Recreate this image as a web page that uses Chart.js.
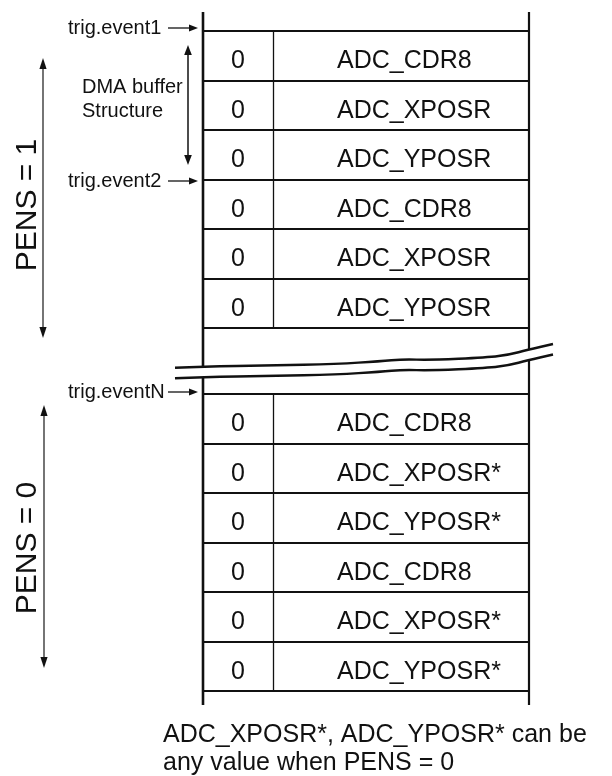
<!DOCTYPE html>
<html>
<head>
<meta charset="utf-8">
<script src="https://cdn.jsdelivr.net/npm/chart.js@4.4.1/dist/chart.umd.min.js"></script>
<style>
html,body{margin:0;padding:0;background:#fff;}
#wrap{width:612px;height:776px;position:relative;}
</style>
</head>
<body>
<div id="wrap"><canvas id="c" width="612" height="776"></canvas></div>
<script>
// ---- data ----
const upperRegisters = ['ADC_CDR8','ADC_XPOSR','ADC_YPOSR','ADC_CDR8','ADC_XPOSR','ADC_YPOSR'];
const upperFlags = [0,0,0,0,0,0];
const lowerRegisters = ['ADC_CDR8','ADC_XPOSR*','ADC_YPOSR*','ADC_CDR8','ADC_XPOSR*','ADC_YPOSR*'];
const lowerFlags = [0,0,0,0,0,0];
const triggerLabels = ['trig.event1','trig.event2','trig.eventN'];
const sectionLabels = ['PENS = 1','PENS = 0'];
const bufferLabel = ['DMA buffer','Structure'];
const noteLines = ['ADC_XPOSR*, ADC_YPOSR* can be','any value when PENS = 0'];

// ---- layout (pixel-valued scales) ----
const FONT = '"Liberation Sans", Arial, Helvetica, sans-serif';
const INK = '#111';
const L = {
  left:203, div:273, right:529, textX:337,
  lineTop:12, lineBottom:705,
  upperTop:31, lowerTop:394, rowH:49.55,
  trigY:[28,181,392], trigTextX:68, trigArrow:[168,198],
  pens:[{x:43, y0:58, y1:338, cx:28, cy:205},{x:44, y0:405, y1:668, cx:28, cy:548}],
  dma:{x:188, y0:45, y1:165, textX:82, base:[93,117]},
  note:{x:163, base:[742,770]},
  wave:[[175,367.7],[203,366.5],[270,365.5],[337,364],[380,361.3],[403,359.2],[430,360],[487,357.6],[510,354.5],[527,350],[553,344]],
  waveGap:10.5
};

const rows = [];
upperRegisters.forEach((r,i)=>rows.push({reg:r, flag:upperFlags[i], y:L.upperTop+(i+0.5)*L.rowH}));
lowerRegisters.forEach((r,i)=>rows.push({reg:r, flag:lowerFlags[i], y:L.lowerTop+(i+0.5)*L.rowH}));

const flagData = rows.map(r=>({x:[L.left,L.div], y:r.y}));
const regData = rows.map(r=>({x:[L.div,L.right], y:r.y}));

function arrowHead(ctx, x, y, dx, dy, len, half){
  const n = Math.hypot(dx,dy); const ux=dx/n, uy=dy/n;
  ctx.beginPath();
  ctx.moveTo(x,y);
  ctx.lineTo(x-ux*len-uy*half, y-uy*len+ux*half);
  ctx.lineTo(x-ux*len+uy*half, y-uy*len-ux*half);
  ctx.closePath();
  ctx.fill();
}

function smoothPath(ctx, pts){
  ctx.moveTo(pts[0][0],pts[0][1]);
  for(let i=1;i<pts.length-1;i++){
    const mx=(pts[i][0]+pts[i+1][0])/2, my=(pts[i][1]+pts[i+1][1])/2;
    ctx.quadraticCurveTo(pts[i][0],pts[i][1],mx,my);
  }
  const last=pts[pts.length-1];
  ctx.lineTo(last[0],last[1]);
}

const diagramPlugin = {
  id:'diagram',
  afterDatasetsDraw(chart){
    const ctx = chart.ctx;
    const sx = chart.scales.x, sy = chart.scales.y;
    const X = v=>sx.getPixelForValue(v), Y = v=>sy.getPixelForValue(v);
    ctx.save();

    const m0 = chart.getDatasetMeta(0), m1 = chart.getDatasetMeta(1);

    // cell borders from bar geometry
    ctx.strokeStyle = INK;
    m1.data.forEach((el)=>{
      const h = el.height, t = el.y - h/2, b = el.y + h/2;
      ctx.lineWidth = 1.8;
      ctx.beginPath();
      ctx.moveTo(X(L.left), Math.round(t)); ctx.lineTo(el.x, Math.round(t));
      ctx.moveTo(X(L.left), Math.round(b)); ctx.lineTo(el.x, Math.round(b));
      ctx.stroke();
    });
    m0.data.forEach((el)=>{
      const h = el.height;
      ctx.lineWidth = 1.3;
      ctx.beginPath();
      ctx.moveTo(Math.round(el.x)+0.5, el.y - h/2); ctx.lineTo(Math.round(el.x)+0.5, el.y + h/2);
      ctx.stroke();
    });

    // cell texts
    ctx.fillStyle = INK;
    ctx.font = '25px ' + FONT;
    ctx.textBaseline = 'alphabetic';
    m0.data.forEach((el,i)=>{
      ctx.textAlign='center';
      ctx.fillText(String(rows[i].flag), (el.x+el.base)/2, el.y+12.5);
    });
    m1.data.forEach((el,i)=>{
      ctx.textAlign='left';
      ctx.fillText(rows[i].reg, X(L.textX), el.y+12.5);
    });

    // outer vertical lines
    ctx.strokeStyle = INK;
    ctx.lineCap='butt';
    ctx.lineWidth = 2.6;
    ctx.beginPath(); ctx.moveTo(X(L.left),Y(L.lineTop)); ctx.lineTo(X(L.left),Y(L.lineBottom)); ctx.stroke();
    ctx.lineWidth = 2.2;
    ctx.beginPath(); ctx.moveTo(X(L.right),Y(L.lineTop)); ctx.lineTo(X(L.right),Y(L.lineBottom)); ctx.stroke();

    // break symbol
    const top = L.wave.map(p=>[X(p[0]),Y(p[1])]);
    const bot = L.wave.map(p=>[X(p[0]),Y(p[1]+L.waveGap)]);
    ctx.fillStyle='#fff';
    ctx.beginPath();
    smoothPath(ctx, top);
    const rb = bot.slice().reverse();
    ctx.lineTo(rb[0][0], rb[0][1]);
    for(let i=1;i<rb.length;i++) ctx.lineTo(rb[i][0], rb[i][1]);
    ctx.closePath();
    ctx.fill();
    ctx.strokeStyle=INK; ctx.lineWidth=2.4; ctx.lineJoin='round';
    ctx.beginPath(); smoothPath(ctx, top); ctx.stroke();
    ctx.beginPath(); smoothPath(ctx, bot); ctx.stroke();

    // trigger labels and arrows
    ctx.fillStyle=INK; ctx.strokeStyle=INK;
    ctx.font='20px '+FONT; ctx.textAlign='left';
    triggerLabels.forEach((t,i)=>{
      const y=Y(L.trigY[i]);
      ctx.fillText(t, X(L.trigTextX), y+5.5);
      ctx.lineWidth=1.3;
      ctx.beginPath(); ctx.moveTo(X(L.trigArrow[0]),y); ctx.lineTo(X(L.trigArrow[1])-6,y); ctx.stroke();
      arrowHead(ctx, X(L.trigArrow[1]), y, 1, 0, 9, 3.6);
    });

    // DMA buffer structure
    bufferLabel.forEach((t,i)=>ctx.fillText(t, X(L.dma.textX), Y(L.dma.base[i])));
    ctx.lineWidth=1.5;
    ctx.beginPath(); ctx.moveTo(X(L.dma.x),Y(L.dma.y0)+6); ctx.lineTo(X(L.dma.x),Y(L.dma.y1)-6); ctx.stroke();
    arrowHead(ctx, X(L.dma.x), Y(L.dma.y0), 0, -1, 10, 3.8);
    arrowHead(ctx, X(L.dma.x), Y(L.dma.y1), 0, 1, 10, 3.8);

    // PENS arrows and labels
    ctx.strokeStyle='#2a2a2a'; ctx.fillStyle='#111';
    L.pens.forEach((p,i)=>{
      ctx.lineWidth=1.3;
      ctx.beginPath(); ctx.moveTo(X(p.x),Y(p.y0)+6); ctx.lineTo(X(p.x),Y(p.y1)-6); ctx.stroke();
      arrowHead(ctx, X(p.x), Y(p.y0), 0, -1, 11, 3.6);
      arrowHead(ctx, X(p.x), Y(p.y1), 0, 1, 11, 3.6);
      ctx.save();
      ctx.translate(X(p.cx), Y(p.cy));
      ctx.rotate(-Math.PI/2);
      ctx.font='30px '+FONT; ctx.textAlign='center'; ctx.textBaseline='middle';
      ctx.fillStyle=INK;
      ctx.fillText(sectionLabels[i], 0, 0);
      ctx.restore();
    });

    // note
    ctx.fillStyle=INK; ctx.font='25px '+FONT; ctx.textAlign='left'; ctx.textBaseline='alphabetic';
    noteLines.forEach((t,i)=>ctx.fillText(t, X(L.note.x), Y(L.note.base[i])));

    ctx.restore();
  }
};

const cellStyle = {
  backgroundColor:'#fff', borderColor:INK, borderWidth:0, borderSkipped:false,
  grouped:false, barPercentage:1, categoryPercentage:1, inflateAmount:0
};

new Chart(document.getElementById('c').getContext('2d'), {
  type:'bar',
  data:{ datasets:[
    Object.assign({label:'flag', data:flagData}, cellStyle),
    Object.assign({label:'register', data:regData}, cellStyle)
  ]},
  options:{
    indexAxis:'y', responsive:false, animation:false, devicePixelRatio:1, events:[],
    layout:{padding:0},
    plugins:{legend:{display:false}, tooltip:{enabled:false}, title:{display:false}},
    scales:{
      x:{type:'linear', min:0, max:612, display:false, offset:false},
      y:{type:'linear', min:0, max:776, reverse:true, display:false, offset:false, ticks:{stepSize:388}}
    }
  },
  plugins:[diagramPlugin]
});
</script>
</body>
</html>
